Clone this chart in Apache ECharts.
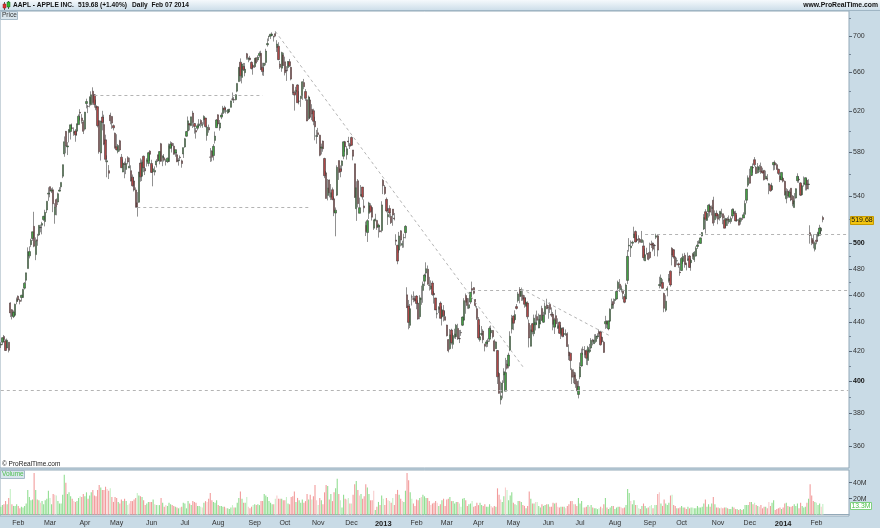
<!DOCTYPE html>
<html><head><meta charset="utf-8">
<script src="https://cdn.jsdelivr.net/npm/echarts@6.0.0/dist/echarts.min.js"></script>
<style>html,body{margin:0;padding:0;background:#c9dbe6;overflow:hidden}#c{width:880px;height:528px}</style>
</head><body><div id="c"></div>
<script>
// ---------- DATA (AAPL daily, 17 Jan 2012 - 7 Feb 2014) ----------
const openPx = [
424,426,430,427,422,426,454,449,444,445,455,
459,456,458,458,465,471,480,490,499,504,514,491,503,506.9,513,515,519.7,518,527.9,541.6,
548.2,544.2,545.4,523.7,536.8,534.7,544.2,548,557.5,578.1,599.6,584.7,598.4,599.5,603,597.8,600,599.8,606.2,618.4,612.8,608.8,
601.8,627.3,624.4,627,626.1,639.9,636.2,625,624.1,610.1,578.9,613.7,606.2,591.4,570.6,562.6,615.6,614.3,605.2,597.8,
584.9,580.2,590.5,575,561.4,569,563.7,574.6,565,562.6,556.7,553.3,545.3,534,534.5,569.6,557.5,575.9,564.6,570.9,569.2,580.7,
569.2,561.5,561.3,567.8,577.3,571.6,587.7,574.5,574.5,571.2,571,571,583.4,588.2,585.4,579,577.3,571.7,575,571.6,578,
584.7,594.9,600,607.1,605.3,617.7,607.3,600.4,602.6,605.1,610.3,605.4,611.1,612.7,595.6,603.3,575.2,580.8,576.5,590.9,603.2,
615.9,602.8,613.6,617.3,622.8,619.4,617.8,618.7,623.4,631.9,631.3,631.2,640,650,670.8,654.4,666.1,659.5,680,674,675.3,670.6,667.3,
665.8,675.6,673.2,678.1,680.5,665.1,666.9,670.5,690,699.4,699.9,700.3,699.2,702.4,686.9,688.3,668.7,664.3,678.7,
671.2,661.8,664.9,671.3,665.2,646.9,638.7,639.7,646.5,629.6,632.4,635.4,648.9,639.6,631.1,612.4,631,621.4,620,609.4,594.9,
598.2,595.9,583.5,590.2,573.8,560.6,540.4,554.2,538.9,545.5,537.5,525.2,540.7,571.9,564.3,567.2,575.9,589.6,577.3,590.2,586.8,
593.7,581.8,568.9,528.9,553.4,525,539.8,547.8,531.3,514.8,508.9,525,531.5,530,512.5,518.8,519,513.5,510.3,510.5,
553.8,547.9,537,522,529.2,522.5,528.6,521,502.7,498.5,494.6,510.3,498.5,504.6,508.8,460,451.7,437.8,458.5,457,457,
459.1,453.9,444,456.5,463.3,470.3,476.5,479.5,467.2,464.5,468.9,461.1,457.7,446,449.3,453.9,443.8,448.4,444,
438,427.8,421.5,434.5,424.5,429.8,429.8,435.6,428.5,432.8,437.9,441.5,459.5,457.4,450.2,454.6,464.7,465.4,456.5,449.8,
441.9,427.6,431.4,433.8,424.5,424.9,426.4,428.1,432.5,434.2,427,421.5,420.3,405,388,392.6,404,393.5,411.2,409.8,420.5,435.1,
444.5,441.8,451.3,455.7,464,459,459.8,457.9,451.5,453.9,439.2,423.2,439,431.9,438.2,444.1,435.9,438.8,449.9,440,445.7,452.5,
450.7,453.2,445.7,445.7,436.5,444.7,435.7,440,431.3,435.5,431.4,431.6,431.8,419.3,418.5,407.4,405.8,403.9,399.9,391.4,
402.7,409.9,420.9,420.4,420.1,413.6,419.6,422,427.6,425,426.5,429.7,433.4,433.1,429.5,426,438.9,440.7,435.3,440.8,450,455,
455.8,456.9,464.7,468,463.8,463.6,458.7,456.9,470.9,497.9,496.4,500.2,504.6,509.7,503.6,504,503.1,500.8,498,486,491.7,492,
493.1,499.6,500.3,498.4,505,506.2,467,468.5,469.3,461,448.7,463.2,470.6,478,496.1,494.9,489.2,486,483.8,477.3,
478.5,485.6,490.5,483.9,486.6,489.9,484.6,491.3,487,489.8,497.5,500.8,500,506,511.8,526.4,519,526.4,531.3,529.2,536.3,519.6,525,
524,521.1,524.6,524.6,519.6,514.6,520,517.7,518,522.8,526.6,525,519,519.2,517.6,520.5,521,524.1,536.3,549.5,
558,558.3,565.5,572.7,565.8,560.6,563.6,566.5,562.1,562.9,555,555.8,549.7,549.5,545.4,568,569.9,568.1,563.8,557.5,554.2,
555.7,552.9,537.5,544.3,538.8,546.8,539.8,529.9,538.2,553.5,554.9,551.5,541,550.9,549.9,554,550.1,508.8,504,502.5,495.2,
502.6,505.9,506.6,510.1,521.4];
const highPx = [
426,429.5,431,428,428.5,426,454.5,449.5,448.5,453.5,458,
459.5,457,460,464.5,469.5,476.8,496.8,497.6,503.8,509.6,526.3,504.9,507.8,514.9,515.5,517.8,522.9,528,535.4,547.6,
548.2,546.8,547.5,533.7,537.8,542.9,547.7,552,568.2,594.7,600,589.2,601.8,606,607.3,603.5,601.8,607.2,616.3,621.5,616.6,610.6,
618.8,632.2,625.9,634.7,639.8,644,636.9,631.3,624.7,610.3,610,619.9,616,596.4,576.7,567.7,618,614.7,606.3,598.4,
596.8,587.4,591.4,578,572.8,570.9,573.9,575.9,574.5,567.5,559.1,556.9,547.5,543.4,561.5,573.9,572.8,576.5,566,574,580,581.5,
572.6,567.5,566.5,573.2,577.3,580.6,588.5,576.6,578,573.5,574.6,587.9,590,589.3,588.2,582.2,579.8,574.1,576.7,572.8,584,
593.3,600,614.2,607.9,613.9,619.9,607.8,603,607.2,611.6,611.5,608.6,615.4,612.9,605.3,606.2,583.6,581.4,587.3,599.4,611.7,
616.4,610.7,618,624.9,625,623.9,621.7,621.8,630,638.6,634,636.8,648.2,665.2,674.9,669,669.9,669.9,680.9,676.1,677.7,671.6,668.6,
675.1,676,678.3,682.5,683.3,670.1,669.9,685.5,697,699.8,702.3,704,700.1,705.1,695.1,692.8,672.1,682.2,681.1,
676.8,666.4,671.9,674.3,666,647.6,640.5,644.5,647.2,639.9,635.1,650.3,652.8,642.1,631.8,635.4,633.9,626.6,622,614,601,
603,596.3,587.8,590.7,574.5,562.2,555,554.5,550.5,547.4,539.5,530,567.5,572,567.4,572,590,590.4,585.4,594.3,588.4,
594.6,581.8,569,553,555,538.5,549.6,547.8,537,518,520,534.9,533.6,530.2,519.7,524.6,519.5,516.3,514.5,535.4,
555,549.7,538.6,529.3,531.9,525,528.6,525.3,507.5,498.8,509.4,510.8,502.2,507.9,515,465.7,456.2,453.2,460.2,462.6,459.3,
459.7,455.9,459.7,466.9,470,476,484.9,482.4,473.6,470.9,470.6,462.7,457.7,449.2,451.6,455.1,451.5,452.4,447.9,
438.2,428.2,435.2,435.4,432.2,435.4,438.8,438.9,434.5,434.6,444.2,457.5,461,457.6,457.5,462.1,469.95,465.8,456.9,451.8,
443.7,438.1,437.3,435,425,427.5,428.5,437.1,437.7,434.5,427.9,426.6,420.6,405.8,399.6,400.5,408.4,415.3,413.9,418.8,433.6,445.3,
444.9,448.6,453.2,462.2,465.8,465.4,463,459.7,457.9,455.2,441.9,437.9,439.5,445.5,445.5,448.4,446.2,445.3,451.9,447.5,454.3,457.1,
452.4,454.4,450.7,447.4,443.2,449.1,442.8,440.5,437.9,436.5,436.6,434.9,432.9,424.5,418.8,408.4,407.7,405.6,401.4,400.3,
412.3,421.6,423,423.3,421,423.5,424.8,428.8,428.3,431.5,431.7,432.2,434.9,433.9,429.8,427,444.6,441.4,441,450,457.2,457.3,
456.8,462.9,470.7,471.9,467,464,460.5,468.7,494.7,504.3,502.4,502.2,513.7,510.6,507.4,506.6,503.3,510.2,502.5,495.8,496.5,493,
500.6,502.2,500.7,499.4,507.9,507.5,473.7,475.4,471.8,461.6,459.7,466.4,475.8,478.6,496.9,495.5,489.6,488.6,484.7,481.7,
489.1,491.8,492.4,484.7,492.7,490.6,487.8,492.4,493.8,497.6,502,502.5,504.8,509.3,524.3,528.5,525.8,532.8,533.2,531.7,539.3,527.5,527.5,
524.8,526.8,528.9,524.8,523.2,521.1,521.7,523.2,522.3,529.3,529.1,527.2,523.4,520.4,521.2,521.2,525.8,536.1,546,558.3,
564.3,566.4,569.2,575.1,566.8,569.6,567.9,570,565.3,562.9,562.6,559.4,551.5,550,551.6,570.7,571.9,569.5,564.4,560.1,561.3,
557,553.7,546.8,546,545.6,546.9,540.8,542.5,546.7,560.2,557.3,552.1,550.1,557.3,556.5,555.6,554.8,514.9,507.4,506.9,501.5,
507.7,509.5,515.3,513.5,522.9];
const lowPx = [
422,424,426,420,422,419,443.7,442,443,444.5,453,
455,453,455,458,464,469,480,488,497,502,496.9,486.6,498.1,506,509.1,507.4,518.6,514,525.2,535.7,
538.8,542.5,526,516.2,523.3,532.1,543.9,545.6,555.8,575.4,578.6,577,589,591.7,601.6,595.3,589.6,595.3,606.1,610.3,607.2,597,
600.4,622.4,617.6,623.4,625.3,626,623.1,620.5,603.5,578.3,571.9,600.6,586.3,570.4,556.6,555,606.5,602.1,600.5,583,
581.2,578.6,580.3,565.2,561.2,555.7,559.4,568.4,565,552.9,548.2,543.9,530.1,522.2,534.1,552.6,553.2,561.2,558.6,566.3,566.6,571.5,
560.5,548.5,558.3,565.5,570.5,568.4,570.6,566.7,570.9,567.3,569.6,570.4,583.1,579.4,577.4,575.4,570.4,567.2,571.9,565.3,574.3,
583.9,594.3,599.3,600.6,604.6,602.9,597.4,592.6,600.5,603.8,603.3,603.1,606.2,603.4,590.6,598.3,570.6,571.1,572,587.9,602.9,
604.8,600.3,611.6,615.3,618,617.1,617.1,618.7,623.3,630.2,627.8,630.5,638.8,649.9,650.3,648.1,661.2,655.6,673.5,670.7,672.6,662.9,657.3,
664.5,669.4,671.1,675.8,662.6,656.5,656,667.4,687.9,694.1,696.4,699.6,693.6,699.4,682,673,663.4,660.4,666.8,
656.5,650.7,662.3,665.6,651.3,636.1,620.1,637.4,628.1,626.4,623.9,631,642,630,609.6,610.8,611.7,610.6,605.6,591,587.7,
594.2,575.9,577.6,580.1,555.8,537.7,536.1,538.7,536.4,536.2,522.6,505.8,539.9,554.2,556.6,562.6,573.1,580.1,572.8,585.3,582.7,
585.5,572.1,538.2,518.6,530,525,539.8,536.8,525.8,506,501.2,520.2,525.6,518.9,511,518.2,511.1,504.7,509.1,509,
541.6,541,525.8,515.2,521.3,516,514.5,519,498.5,483.4,492.5,497.6,496.4,496.6,504.1,450.3,435,435.9,452.1,454.5,455.1,
449.4,441.9,442.2,452.6,454.1,466.6,473.2,467.7,463.2,463.9,459.3,453.5,448.8,442.8,446.6,442.6,437.7,440.6,441.4,
430,419,420.8,424.4,421.5,428.6,428.2,427.6,425.4,430.4,437.3,441.2,446.1,449.7,449.5,453.1,461.8,460.3,450.7,441.6,
427.7,426.4,430.3,425.3,419.7,422.5,422.8,426.3,429.8,428.6,419.7,421.4,398.1,391.9,385.1,388.9,398.8,393.5,407.6,408.3,419.8,432.1,
434.4,440.6,449.2,454.3,453.7,455.5,455.6,450.5,451.5,442.1,422.4,423.1,431.5,430.1,434.2,438.3,435.8,438.6,440.9,439.5,445,449.5,
442.5,446.7,443.7,434.3,431.7,436.8,435.4,431.7,428.2,429.4,429.5,430.4,422.7,413.8,407.2,398.1,398.6,395.6,393.5,388.9,
401.2,409.5,417.5,415.4,410.6,410.4,418.5,421,423.8,424.8,425.5,428.2,430.3,423.7,425.3,418.7,435.3,435.8,434.3,440.2,449.4,449.8,
453.3,456.4,462.2,462.2,461.8,456.7,453.8,456.9,468.1,493.4,489.1,498,504.4,500.8,501.3,499.8,500.7,500.5,486.3,486,491.1,486.5,
487.4,496.3,493.6,489.8,503.5,489.5,464.8,466,464.7,447.2,447.5,458.9,469.2,466.1,482.5,487.8,481.4,482.6,480.7,474.4,
478.3,483.8,480.7,478.6,485.9,480.5,478.3,487.4,485.2,489.4,495.5,499.3,499.7,505.7,511,508,518.5,521.4,522.5,523.2,514.5,517,520.6,
515.8,518.9,522,515.8,512.4,512.9,514.4,516.2,516.2,520.6,524.5,518.2,517.8,514.9,515.5,518.1,521,524.1,533.6,547.8,
550.8,557.7,560.8,566.4,559.6,560.1,561.2,559.7,560,553.7,554.9,553.4,541.5,543.7,544.8,562.8,563.3,563.4,558.7,552.3,554,
552,540.4,533.6,537.9,538.7,535.4,531,529.9,537.7,551.7,551.6,539.9,540.4,548.2,544.8,544.8,545.8,499.8,498.6,496,493.55,
499.3,502,506.5,507.8,517.4];
const closePx = [
424.7,429.1,427.8,420.3,427.4,420.4,446.7,444.6,447.3,453,456.5,
456.2,455.1,459.7,464,468.8,476.7,493.2,493.4,502.6,509.5,497.7,502.2,502.1,514.9,513,516.4,522.4,525.8,535.4,542.4,
544.5,545.2,533.2,530.3,530.7,542,545.2,552,568.1,589.6,585.6,585.6,601.1,606,602.5,599.3,596.1,607,614.5,617.6,609.9,599.6,
618.6,629.3,624.3,633.7,636.2,628.4,626.2,622.8,605.2,580.1,609.7,608.3,587.4,573,571.7,560.3,610,607.7,603,584,
582.1,586,581.8,565.3,569.5,568.2,569.2,570.5,566.7,553.2,549,545.2,530.1,530.4,561.3,557,570.6,565.3,562.3,572.3,579.2,577.7,
561,564.3,562.8,571.5,571.7,580.3,571.2,576.2,572.2,571.5,574.1,585.8,587.4,585.7,577.7,582.1,570.8,572,574.5,569.1,584,
592.5,599.4,609.9,605.9,613.9,608.2,604.4,598.9,605,606.9,606.9,606.3,614.3,604.3,603.8,600.9,575,574.9,585.2,595,610.8,
606.8,607.8,615.7,622.6,620.9,619.9,620.7,621.7,630,631.7,630.8,636.3,648.1,665.2,656.1,668.9,662.6,663.2,675.7,674.8,673.5,663.9,665.2,
675,670.2,676.3,680.4,662.7,660.6,669.8,683,691.3,699.8,701.9,702.1,698.7,700.1,690.8,673.5,665.2,681.3,667.1,
659.4,661.3,671.5,666.8,652.6,638.2,635.9,640.9,628.1,629.7,634.8,649.8,644.6,632.6,609.8,634,613.4,616.8,609.5,604,595.3,
596.5,576.8,584.6,582.9,558,537.8,547.1,542.8,542.9,536.9,525.6,527.7,565.7,560.9,561.7,571.5,589.5,584.8,582.9,589.4,585.3,
586.2,575.9,538.8,547.2,533.3,529.8,541.4,539,529.7,509.8,518.8,533.9,526.3,521.7,519.3,520.2,513,515.1,509.6,532.2,
549,542.1,527,523.9,525.3,517.1,523.5,520.3,501.8,485.9,506.1,502.7,500,504.8,514,450.5,439.9,449.8,458.3,456.8,455.5,
453.6,442.3,457.8,457.4,468.2,475,479.9,467.9,467,466.6,460.2,460,448.9,446.1,450.8,442.8,449,444.6,441.4,
430.5,420.1,431.1,425.7,430.6,431.7,437.9,428.4,428.4,432.5,443.7,455.7,454.5,452.1,452.7,461.9,463.6,461.1,452.1,442.7,
428.9,429.8,432,427.7,423.2,426.2,427,435.7,434.3,429.8,419.9,426.2,402.8,392.1,390.5,398.7,406.1,405.5,408.4,417.2,430.1,442.8,
439.3,445.5,450,460.7,458.7,463.8,456.8,453,454.7,443.9,428.9,434.6,433.3,442.9,439.7,441.4,442.1,445.2,441.4,445,451.6,449.7,
450.7,449.3,445.1,438.5,441.8,438.9,437.6,432.2,436,430.1,432,431.8,423,416.8,413.5,402.5,402.6,398.1,393.8,396.5,
409.2,418.5,420.8,417.4,415.1,422.4,420.7,427.3,426.5,427.4,430.2,430.3,431.8,424.2,426.3,419,440.5,438.5,441,449.4,453.3,452.5,
456.7,462.5,469.5,465.3,465,461,454.5,467.4,489.6,498.5,497.9,501,507.7,501.1,502.4,503,501,503,488.6,490.9,491.7,487.2,
488.6,498.7,495.3,498.2,506.2,494.6,467.7,472.7,464.9,450.1,455.3,464.7,472.3,467.4,490.6,489.1,481.5,486.2,482.8,476.8,
488,489.6,483.4,483,487.8,480.9,486.6,489.6,492.8,496,498.7,501.1,504.5,508.9,521.4,519.9,525,531.9,526,529.9,516.7,524.9,522.7,
520,526.8,525.5,520.9,512.5,520.6,519.1,520,520.6,528.2,525,518.6,519.6,515,521.1,519.8,523.7,533.4,546,556.1,
551.2,566.3,565,567.9,560,566.4,565.6,561.4,560.5,554.4,557.5,555,550.8,544.5,549,570.1,567.7,563.9,560.1,554.5,561,
553.1,541,543.9,540,543.5,536.5,532.9,535.7,546.4,557.4,554.3,540.7,549,551.5,556.2,546.1,550.5,506.5,500.8,499.8,500.6,
501.5,508.8,512.6,512.5,519.68];
const volumeM = [
10,12,13,17,13,21,32,13,11,11,13,
11,8,10,9,11,14,31,22,18,19,52,31,19,18,15,17,13,18,20,30,
21,13,26,25,24,17,14,14,25,50,40,26,28,23,20,17,16,17,21,23,22,26,
23,28,20,24,28,31,24,23,31,37,34,31,31,35,32,30,33,22,16,22,
21,16,14,19,17,20,17,12,14,17,17,19,21,27,24,23,22,18,12,14,16,16,
16,19,13,12,12,12,21,15,10,12,11,15,13,12,11,10,9,8,9,10,15,
14,8,17,14,12,17,16,15,11,11,10,9,15,17,16,20,27,18,16,15,18,
12,11,11,10,10,8,8,7,9,12,9,9,15,21,29,20,15,15,22,10,8,10,12,
13,12,13,12,17,17,26,24,22,17,15,13,13,20,24,20,20,20,18,
18,22,14,13,22,23,29,16,21,18,15,19,15,17,26,19,25,19,23,37,18,
12,21,18,13,28,37,36,19,26,17,28,33,45,26,18,9,25,20,19,21,14,
14,25,38,42,31,24,26,20,23,38,34,26,18,18,30,6,10,16,12,24,
20,12,21,18,17,15,21,12,26,31,25,20,17,16,30,52,43,28,20,14,11,
19,18,21,22,25,23,21,21,17,12,14,15,17,15,11,13,18,20,11,
19,20,22,17,17,14,16,16,14,10,20,21,18,11,13,14,17,10,11,15,
12,15,12,11,13,10,10,13,11,9,11,10,33,25,19,16,23,34,31,18,24,28,
15,13,12,17,17,16,12,11,8,11,29,20,14,14,16,16,11,9,13,11,12,13,
13,10,10,15,14,15,10,9,10,10,10,8,11,13,17,17,13,13,11,21,
14,17,9,9,10,12,10,12,9,8,8,7,8,10,8,13,21,9,7,9,11,11,
7,9,10,10,9,8,9,12,32,27,17,13,18,12,12,8,7,11,14,11,8,9,
11,12,8,12,12,26,28,14,11,19,14,12,15,24,25,12,11,8,8,9,
11,9,9,7,10,8,9,9,8,8,11,9,9,10,14,19,10,13,10,14,22,13,9,
9,8,9,8,9,9,8,7,7,10,9,7,7,6,7,6,7,12,12,12,
16,16,13,15,12,11,10,12,8,10,10,8,16,11,15,18,6,7,8,9,7,
9,14,15,11,10,10,11,13,11,14,8,15,11,9,10,15,20,38,24,17,16,
15,12,14,10,13.3];

const firstDay = '2012-01-17';
const futureSlots = 16;  // empty trading days to the right of the last bar
const marketHolidays = ['2012-01-16','2012-02-20','2012-04-06','2012-05-28','2012-07-04','2012-09-03','2012-10-29','2012-10-30','2012-11-22','2012-12-25',
'2013-01-01','2013-01-21','2013-02-18','2013-03-29','2013-05-27','2013-07-04','2013-09-02','2013-11-28','2013-12-25',
'2014-01-01','2014-01-20','2014-02-17'];
const monthNames = ['Jan','Feb','Mar','Apr','May','Jun','Jul','Aug','Sep','Oct','Nov','Dec'];
const priceTickLabels = [360,380,400,420,440,460,480,500,540,580,620,660,700];
const boldPriceLabels = [400,500];
const priceMinorTicks = [370,390,410,430,450,470,490,520,560,600,640,680,720];
const volumeTickLabels = [20,40];
const lastPrice = 519.68, lastChangePct = 1.40, lastDateText = 'Feb 07 2014';
const lastVolumeM = 13.3;
// drawn support / resistance lines: [startDate, endDate(null=right edge), price]
const horizontalLevels = [
  ['2012-04-11','2012-09-11',636],
  ['2012-05-18','2012-10-22',530.4],
  ['2013-08-28',null,507.7],
  ['2013-03-25',null,463.6],
  ['2012-01-17',null,393.8]
];
// drawn trend lines: [date1, price1, date2, price2]
const trendLines = [
  ['2012-09-21',705.1,'2013-05-09',409.4],
  ['2013-05-08',464.5,'2013-07-29',430.3]
];

// ---------- calendar ----------
function buildTradingDays(n){
  const out=[]; const d=new Date(firstDay+'T00:00:00Z');
  while(out.length<n){
    const dow=d.getUTCDay(); const s=d.toISOString().slice(0,10);
    if(dow!==0&&dow!==6&&marketHolidays.indexOf(s)<0) out.push(s);
    d.setUTCDate(d.getUTCDate()+1);
  }
  return out;
}
const N = closePx.length;
const dates = buildTradingDays(N + futureSlots);
const lastCat = dates[dates.length-1];

const FONT = '"Liberation Sans", Arial, sans-serif';
const candleData = closePx.map((c,i)=>[openPx[i], c, lowPx[i], highPx[i]]);
const volData = volumeM.map((v,i)=>{
  const prev = i>0 ? closePx[i-1] : openPx[i];
  const up = closePx[i] >= prev;
  const bodyUp = closePx[i] >= openPx[i];
  const strong = up === bodyUp;
  const col = up ? (strong ? '#92de92' : '#c6f0c6') : (strong ? '#f29c9c' : '#f8cdcd');
  return {value:v, itemStyle:{color:col}};
});

const mlData = [];
horizontalLevels.forEach(h=>mlData.push([{coord:[h[0],h[2]]},{coord:[h[1]||lastCat,h[2]]}]));
trendLines.forEach(t=>mlData.push([{coord:[t[0],t[1]]},{coord:[t[2],t[3]]}]));

const chart = echarts.init(document.getElementById('c'), null, {renderer:'canvas', width:880, height:528});
const option = {
  animation:false,
  backgroundColor:'#c9dbe6',
  textStyle:{fontFamily:FONT},
  grid:[
    {left:0, top:11, width:849, height:457, show:true, backgroundColor:'#ffffff', borderColor:'#93a9b8', borderWidth:1},
    {left:0, top:470, width:849, height:46, show:true, backgroundColor:'#ffffff', borderColor:'#93a9b8', borderWidth:1}
  ],
  xAxis:[
    {type:'category', gridIndex:0, data:dates, boundaryGap:true, axisLine:{show:false}, axisTick:{show:false}, axisLabel:{show:false}, splitLine:{show:false}},
    {type:'category', gridIndex:1, data:dates, boundaryGap:true, axisLine:{show:true, lineStyle:{color:'#93a9b8'}}, axisTick:{show:false},
      axisLabel:{
        interval:(idx,val)=> idx>0 && idx<N && val.slice(5,7)!==dates[idx-1].slice(5,7),
        formatter:(val)=>{const m=+val.slice(5,7); return m===1 ? '{y|'+val.slice(0,4)+'}' : monthNames[m-1];},
        fontSize:7, color:'#333', margin:4, fontFamily:FONT,
        rich:{y:{fontWeight:'bold', fontSize:7.5, color:'#222', fontFamily:FONT}}
      }, splitLine:{show:false}}
  ],
  yAxis:[
    {type:'log', logBase:10, gridIndex:0, position:'right', min:347.4, max:728.8,
      axisLine:{show:false}, axisTick:{show:false}, axisLabel:{show:false}, splitLine:{show:false}, minorTick:{show:false}},
    {type:'value', gridIndex:1, position:'right', min:-1.6, max:55.9,
      axisLine:{show:false}, splitLine:{show:false},
      axisTick:{show:true, length:3, customValues:volumeTickLabels, lineStyle:{color:'#556677'}},
      axisLabel:{customValues:volumeTickLabels, formatter:(v)=>v+'M', fontSize:7, color:'#333', margin:4, fontFamily:FONT}}
  ],
  series:[
    {type:'candlestick', xAxisIndex:0, yAxisIndex:0, data:candleData, barWidth:1.8,
      itemStyle:{color:'#45a045', color0:'#b04848', borderColor:'#353535', borderColor0:'#353535', borderWidth:0.55},
      markLine:{silent:true, symbol:['none','none'], label:{show:false}, animation:false,
        lineStyle:{type:[3,3], color:'#b4b4b4', width:1}, data:mlData}},
    {type:'bar', xAxisIndex:1, yAxisIndex:1, data:volData, barWidth:1.1}
  ]
};
chart.setOption(option);

// ---------- axis labels & decorations positioned through the chart's own scales ----------
const g = [];
g.push({type:'rect', shape:{x:0,y:0,width:880,height:11}, style:{fill:{type:'linear',x:0,y:0,x2:0,y2:1,colorStops:[{offset:0,color:'#f5f9fc'},{offset:1,color:'#cadce8'}]}}, z:10});
g.push({type:'line', shape:{x1:0,y1:10.5,x2:880,y2:10.5}, style:{stroke:'#9fb5c4',lineWidth:1}, z:10});
// icon
g.push({type:'line', shape:{x1:4.5,y1:2,x2:4.5,y2:10}, style:{stroke:'#555',lineWidth:1}, z:11});
g.push({type:'rect', shape:{x:3,y:4,width:3,height:4}, style:{fill:'#d33',stroke:'#822',lineWidth:0.5}, z:11});
g.push({type:'line', shape:{x1:8.5,y1:1,x2:8.5,y2:9}, style:{stroke:'#555',lineWidth:1}, z:11});
g.push({type:'rect', shape:{x:7,y:2,width:3,height:5}, style:{fill:'#3b3',stroke:'#161',lineWidth:0.5}, z:11});
const hdr = (x,t)=>g.push({type:'text', x:x, y:5.5, style:{text:t, fill:'#111', fontSize:6.6, fontWeight:'bold', fontFamily:FONT, verticalAlign:'middle'}, z:11});
hdr(13,'AAPL - APPLE INC.');
hdr(78, lastPrice.toFixed(2)+' (+'+lastChangePct.toFixed(2)+'%)');
hdr(132,'Daily  '+lastDateText);
g.push({type:'text', x:878, y:5.5, style:{text:'www.ProRealTime.com', fill:'#111', fontSize:6.8, fontWeight:'bold', fontFamily:FONT, align:'right', verticalAlign:'middle'}, z:11});
// panel tags
g.push({type:'rect', shape:{x:0.5,y:11.5,width:17,height:8}, style:{fill:'#d8e5ed',stroke:'#a6bac8',lineWidth:1}, z:11});
g.push({type:'text', x:2, y:15.6, style:{text:'Price', fill:'#333', fontSize:6.5, fontFamily:FONT, verticalAlign:'middle'}, z:12});
g.push({type:'rect', shape:{x:0.5,y:470.5,width:24,height:8}, style:{fill:'#d8e5ed',stroke:'#a6bac8',lineWidth:1}, z:11});
g.push({type:'text', x:2, y:474.6, style:{text:'Volume', fill:'#4fc04f', fontSize:6.5, fontFamily:FONT, verticalAlign:'middle'}, z:12});
g.push({type:'text', x:2, y:464, style:{text:'\u00A9 ProRealTime.com', fill:'#222', fontSize:6.5, fontFamily:FONT, verticalAlign:'middle'}, z:12});
// price scale
priceTickLabels.forEach(v=>{
  const y = Math.round(chart.convertToPixel({yAxisIndex:0}, v))+0.5;
  g.push({type:'line', shape:{x1:849,y1:y,x2:852,y2:y}, style:{stroke:'#556677',lineWidth:1}, z:11});
  g.push({type:'text', x:853, y:y, style:{text:String(v), fill:boldPriceLabels.indexOf(v)>=0?'#111':'#333', fontSize:7, fontWeight:boldPriceLabels.indexOf(v)>=0?'bold':'normal', fontFamily:FONT, verticalAlign:'middle'}, z:11});
});
priceMinorTicks.forEach(v=>{
  const y = Math.round(chart.convertToPixel({yAxisIndex:0}, v))+0.5;
  g.push({type:'line', shape:{x1:849,y1:y,x2:851,y2:y}, style:{stroke:'#778899',lineWidth:1}, z:11});
});
const yLast = chart.convertToPixel({yAxisIndex:0}, lastPrice);
g.push({type:'rect', shape:{x:850.5,y:Math.round(yLast)-3.5,width:23,height:8}, style:{fill:'#f2c511',stroke:'#c69a00',lineWidth:1}, z:12});
g.push({type:'text', x:862, y:yLast+0.5, style:{text:lastPrice.toFixed(2), fill:'#111', fontSize:7, fontFamily:FONT, align:'center', verticalAlign:'middle'}, z:13});
const yVol = chart.convertToPixel({yAxisIndex:1}, lastVolumeM);
g.push({type:'rect', shape:{x:850.5,y:Math.round(yVol)-1.5,width:21,height:7}, style:{fill:'#ffffff',stroke:'#7fd07f',lineWidth:1}, z:12});
g.push({type:'text', x:861, y:Math.round(yVol)+2.2, style:{text:lastVolumeM.toFixed(1)+'M', fill:'#4cbf4c', fontSize:6.8, fontFamily:FONT, align:'center', verticalAlign:'middle'}, z:13});
// sanity check of array lengths
const lens=[openPx.length,highPx.length,lowPx.length,closePx.length,volumeM.length];
if(lens.some(l=>l!==lens[0])) g.push({type:'text', x:300, y:250, style:{text:'LEN '+lens.join(','), fill:'red', fontSize:20}, z:50});
chart.setOption({graphic:{elements:g}});
</script></body></html>
